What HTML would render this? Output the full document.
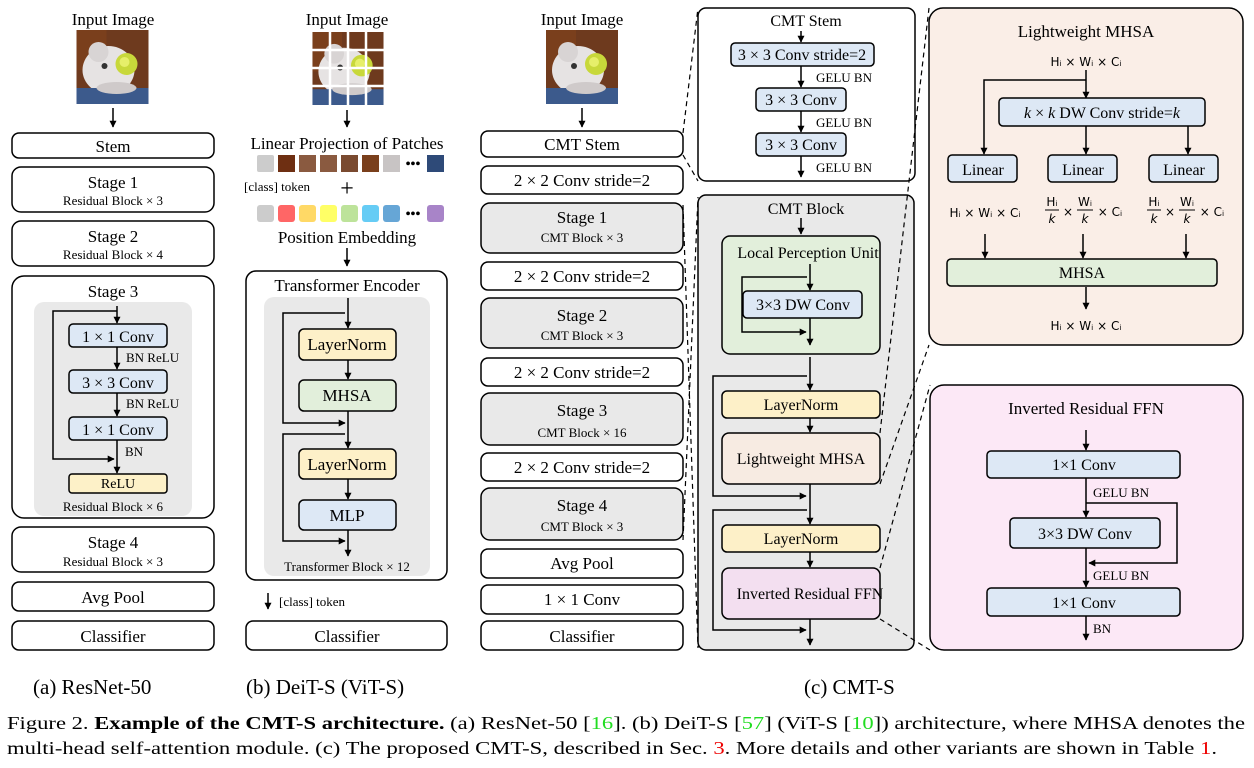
<!DOCTYPE html>
<html><head><meta charset="utf-8"><style>
html,body{margin:0;padding:0;background:#fff}
svg{display:block}
text{font-family:"Liberation Serif",serif;fill:#000}
</style></head><body>
<svg width="1254" height="768" viewBox="0 0 1254 768" xmlns="http://www.w3.org/2000/svg">
<defs>
<marker id="ar" viewBox="0 0 10 10" refX="9" refY="5" markerWidth="7" markerHeight="7" markerUnits="userSpaceOnUse" orient="auto"><path d="M0,0 L10,5 L0,10 z" fill="#000"/></marker>
<symbol id="cat" viewBox="0 0 72 74">
<rect width="72" height="74" fill="#6e3a1e"/>
<rect x="0" y="0" width="30" height="40" fill="#7a3f1c"/>
<ellipse cx="32" cy="40" rx="26" ry="24" fill="#e6e3e3"/>
<ellipse cx="22" cy="22" rx="10" ry="10" fill="#d8d4d4"/>
<circle cx="50" cy="34" r="11" fill="#c8d83a"/>
<circle cx="48" cy="32" r="5" fill="#e6ef6a"/>
<circle cx="28" cy="36" r="3" fill="#333"/>
<rect x="0" y="58" width="72" height="16" fill="#3c5a8c"/>
<ellipse cx="40" cy="58" rx="20" ry="6" fill="#cfcaca"/>
</symbol>
</defs>
<g fill="none" stroke="#000" stroke-width="1.5">
<!-- (a) -->
<line x1="113" y1="108" x2="113" y2="127" marker-end="url(#ar)"/>
<rect x="12" y="133" width="202" height="25" rx="7" fill="#fff"/>
<rect x="12" y="167" width="202" height="45" rx="9" fill="#fff"/>
<rect x="12" y="221" width="202" height="45" rx="9" fill="#fff"/>
<rect x="12" y="276" width="202" height="242" rx="12" fill="#fff"/>
<rect x="34" y="302" width="158" height="214" rx="10" fill="#e9e9e9" stroke="none"/>
<rect x="69" y="324" width="98" height="23" rx="4" fill="#dde8f5"/>
<rect x="69" y="370" width="98" height="23" rx="4" fill="#dde8f5"/>
<rect x="69" y="417" width="98" height="23" rx="4" fill="#dde8f5"/>
<rect x="69" y="474" width="98" height="19" rx="3" fill="#fdf1c8"/>
<line x1="117" y1="306" x2="117" y2="323" marker-end="url(#ar)"/>
<line x1="117" y1="347" x2="117" y2="369" marker-end="url(#ar)"/>
<line x1="117" y1="393" x2="117" y2="416" marker-end="url(#ar)"/>
<line x1="117" y1="440" x2="117" y2="473" marker-end="url(#ar)"/>
<polyline points="117,311 53,311 53,459 114,459" marker-end="url(#ar)"/>
<rect x="12" y="527" width="202" height="45" rx="9" fill="#fff"/>
<rect x="12" y="582" width="202" height="29" rx="7" fill="#fff"/>
<rect x="12" y="621" width="202" height="29" rx="7" fill="#fff"/>
<!-- (b) -->
<line x1="347" y1="110" x2="347" y2="127" marker-end="url(#ar)"/>
<line x1="347" y1="248" x2="347" y2="266" marker-end="url(#ar)"/>
<rect x="246" y="271" width="201" height="309" rx="10" fill="#fff"/>
<rect x="264" y="297" width="166" height="279" rx="10" fill="#e9e9e9" stroke="none"/>
<rect x="299" y="329" width="97" height="31" rx="5" fill="#fdf0c8"/>
<rect x="299" y="380" width="97" height="31" rx="5" fill="#e2efdb"/>
<rect x="299" y="449" width="97" height="30" rx="5" fill="#fdf0c8"/>
<rect x="299" y="500" width="97" height="30" rx="5" fill="#dde8f5"/>
<line x1="348" y1="298" x2="348" y2="328" marker-end="url(#ar)"/>
<line x1="348" y1="360" x2="348" y2="379" marker-end="url(#ar)"/>
<line x1="348" y1="411" x2="348" y2="448" marker-end="url(#ar)"/>
<line x1="348" y1="479" x2="348" y2="499" marker-end="url(#ar)"/>
<line x1="348" y1="530" x2="348" y2="556" marker-end="url(#ar)"/>
<polyline points="345,313 283,313 283,423 345,423" marker-end="url(#ar)"/>
<polyline points="345,434 283,434 283,541 345,541" marker-end="url(#ar)"/>
<line x1="268" y1="593" x2="268" y2="609" marker-end="url(#ar)"/>
<rect x="246" y="621" width="201" height="29" rx="7" fill="#fff"/>
<!-- (c) column -->
<line x1="582" y1="108" x2="582" y2="127" marker-end="url(#ar)"/>
<rect x="481" y="131" width="202" height="26" rx="7" fill="#fff"/>
<rect x="481" y="166" width="202" height="28" rx="7" fill="#fff"/>
<rect x="481" y="203" width="202" height="50" rx="9" fill="#e9e9e9"/>
<rect x="481" y="262" width="202" height="28" rx="7" fill="#fff"/>
<rect x="481" y="298" width="202" height="50" rx="9" fill="#e9e9e9"/>
<rect x="481" y="358" width="202" height="28" rx="7" fill="#fff"/>
<rect x="481" y="393" width="202" height="52" rx="9" fill="#e9e9e9"/>
<rect x="481" y="453" width="202" height="28" rx="7" fill="#fff"/>
<rect x="481" y="488" width="202" height="52" rx="9" fill="#e9e9e9"/>
<rect x="481" y="549" width="202" height="29" rx="7" fill="#fff"/>
<rect x="481" y="585" width="202" height="29" rx="7" fill="#fff"/>
<rect x="481" y="621" width="202" height="29" rx="7" fill="#fff"/>
<!-- CMT stem panel -->
<rect x="698" y="8" width="217" height="173" rx="8" fill="#fff"/>
<rect x="731" y="43" width="143" height="23" rx="4" fill="#dde8f5"/>
<rect x="756" y="88" width="90" height="23" rx="4" fill="#dde8f5"/>
<rect x="756" y="133" width="90" height="23" rx="4" fill="#dde8f5"/>
<line x1="801" y1="31" x2="801" y2="42" marker-end="url(#ar)"/>
<line x1="801" y1="66" x2="801" y2="87" marker-end="url(#ar)"/>
<line x1="801" y1="111" x2="801" y2="132" marker-end="url(#ar)"/>
<line x1="801" y1="156" x2="801" y2="177" marker-end="url(#ar)"/>
<!-- CMT block -->
<rect x="698" y="195" width="216" height="455" rx="8" fill="#e9e9e9"/>
<line x1="801" y1="218" x2="801" y2="234" marker-end="url(#ar)"/>
<rect x="722" y="236" width="158" height="118" rx="8" fill="#e2efdb"/>
<rect x="743" y="291" width="119" height="27" rx="4" fill="#dde8f5"/>
<line x1="810" y1="264" x2="810" y2="290" marker-end="url(#ar)"/>
<line x1="810" y1="318" x2="810" y2="345" marker-end="url(#ar)"/>
<polyline points="807,277 742,277 742,332 806,332" marker-end="url(#ar)"/>
<line x1="810" y1="357" x2="810" y2="390" marker-end="url(#ar)"/>
<polyline points="807,376 713,376 713,496 806,496" marker-end="url(#ar)"/>
<rect x="722" y="391" width="158" height="27" rx="5" fill="#fdf0c8"/>
<line x1="810" y1="418" x2="810" y2="432" marker-end="url(#ar)"/>
<rect x="722" y="433" width="158" height="51" rx="7" fill="#f7ebe2"/>
<line x1="810" y1="484" x2="810" y2="524" marker-end="url(#ar)"/>
<polyline points="807,510 713,510 713,630 806,630" marker-end="url(#ar)"/>
<rect x="722" y="525" width="158" height="27" rx="5" fill="#fdf0c8"/>
<line x1="810" y1="552" x2="810" y2="567" marker-end="url(#ar)"/>
<rect x="722" y="568" width="158" height="51" rx="7" fill="#f3dff0"/>
<line x1="810" y1="619" x2="810" y2="645" marker-end="url(#ar)"/>
<!-- Lightweight MHSA -->
<rect x="929" y="8" width="314" height="337" rx="14" fill="#faeee7"/>
<polyline points="1086,70 1086,98" marker-end="url(#ar)"/>
<polyline points="1086,80 984,80 984,154" marker-end="url(#ar)"/>
<rect x="999" y="98" width="206" height="28" rx="4" fill="#dde8f5"/>
<line x1="1086" y1="126" x2="1086" y2="154" marker-end="url(#ar)"/>
<line x1="1188" y1="126" x2="1188" y2="154" marker-end="url(#ar)"/>
<rect x="948" y="155" width="69" height="27" rx="4" fill="#dde8f5"/>
<rect x="1048" y="155" width="69" height="27" rx="4" fill="#dde8f5"/>
<rect x="1149" y="155" width="69" height="27" rx="4" fill="#dde8f5"/>
<line x1="985" y1="234" x2="985" y2="258" marker-end="url(#ar)"/>
<line x1="1083" y1="234" x2="1083" y2="258" marker-end="url(#ar)"/>
<line x1="1186" y1="234" x2="1186" y2="258" marker-end="url(#ar)"/>
<rect x="947" y="259" width="270" height="27" rx="4" fill="#e2efdb"/>
<line x1="1086" y1="287" x2="1086" y2="309" marker-end="url(#ar)"/>
<!-- IRFFN -->
<rect x="930" y="385" width="313" height="265" rx="14" fill="#fce8f6"/>
<line x1="1086" y1="430" x2="1086" y2="450" marker-end="url(#ar)"/>
<rect x="987" y="451" width="193" height="27" rx="4" fill="#dde8f5"/>
<line x1="1086" y1="478" x2="1086" y2="517" marker-end="url(#ar)"/>
<polyline points="1086,503 1177,503 1177,563 1089,563" marker-end="url(#ar)"/>
<rect x="1010" y="518" width="150" height="30" rx="4" fill="#dde8f5"/>
<line x1="1086" y1="548" x2="1086" y2="587" marker-end="url(#ar)"/>
<rect x="987" y="588" width="193" height="28" rx="4" fill="#dde8f5"/>
<line x1="1086" y1="616" x2="1086" y2="640" marker-end="url(#ar)"/>
</g>
<!-- dashed -->
<g stroke="#000" stroke-width="1.2" stroke-dasharray="5,4" fill="none">
<line x1="683" y1="133" x2="698" y2="8"/>
<line x1="683" y1="155" x2="698" y2="181"/>
<line x1="683" y1="205" x2="698" y2="648"/>
<line x1="683" y1="540" x2="698" y2="197"/>
<line x1="880" y1="433" x2="929" y2="8"/>
<line x1="880" y1="484" x2="929" y2="345"/>
<line x1="880" y1="568" x2="930" y2="385"/>
<line x1="880" y1="619" x2="930" y2="650"/>
</g>
<!-- images -->
<use href="#cat" x="76" y="30" width="73" height="74"/>
<use href="#cat" x="546" y="30" width="72" height="74"/>
<use href="#cat" x="312" y="32" width="72" height="73"/>
<g stroke="#fff" stroke-width="2.5">
<line x1="330" y1="32" x2="330" y2="105"/><line x1="348" y1="32" x2="348" y2="105"/><line x1="366" y1="32" x2="366" y2="105"/>
<line x1="312" y1="50" x2="384" y2="50"/><line x1="312" y1="68" x2="384" y2="68"/><line x1="312" y1="86" x2="384" y2="86"/>
</g>
<!-- token rows -->
<g>
<rect x="257" y="155" width="17" height="17" rx="2" fill="#ccc"/>
<rect x="278" y="155" width="17" height="17" fill="#6e2f12"/>
<rect x="299" y="155" width="17" height="17" fill="#8a5a40"/>
<rect x="320" y="155" width="17" height="17" fill="#8a5a40"/>
<rect x="341" y="155" width="17" height="17" fill="#7a4a30"/>
<rect x="362" y="155" width="17" height="17" fill="#7a3f1c"/>
<rect x="383" y="155" width="17" height="17" fill="#c8c4c4"/>
<rect x="427" y="155" width="17" height="17" fill="#2e4a78"/>
<rect x="257" y="205" width="17" height="17" rx="3" fill="#ccc"/>
<rect x="278" y="205" width="17" height="17" rx="3" fill="#ff6666"/>
<rect x="299" y="205" width="17" height="17" rx="3" fill="#ffd966"/>
<rect x="320" y="205" width="17" height="17" rx="3" fill="#ffff66"/>
<rect x="341" y="205" width="17" height="17" rx="3" fill="#bde39a"/>
<rect x="362" y="205" width="17" height="17" rx="3" fill="#66ccf5"/>
<rect x="383" y="205" width="17" height="17" rx="3" fill="#66a6d6"/>
<rect x="427" y="205" width="17" height="17" rx="3" fill="#a884c8"/>
</g>
<g font-size="17" text-anchor="middle">
<text x="113" y="25">Input Image</text>
<text x="347" y="25">Input Image</text>
<text x="582" y="25">Input Image</text>
<text x="113" y="152">Stem</text>
<text x="113" y="188">Stage 1</text>
<text x="113" y="242">Stage 2</text>
<text x="113" y="297">Stage 3</text>
<text x="113" y="548">Stage 4</text>
<text x="113" y="603">Avg Pool</text>
<text x="113" y="642">Classifier</text>
<text x="118" y="342" font-size="16">1 × 1 Conv</text>
<text x="118" y="388" font-size="16">3 × 3 Conv</text>
<text x="118" y="435" font-size="16">1 × 1 Conv</text>
<text x="118" y="488" font-size="14">ReLU</text>
<text x="347" y="149">Linear Projection of Patches</text>
<text x="413" y="168" font-size="14" font-weight="bold">•••</text>
<text x="413" y="218" font-size="14" font-weight="bold">•••</text>
<text x="347" y="196" font-size="24">+</text>
<text x="347" y="243">Position Embedding</text>
<text x="347" y="291">Transformer Encoder</text>
<text x="347" y="350">LayerNorm</text>
<text x="347" y="401">MHSA</text>
<text x="347" y="470">LayerNorm</text>
<text x="347" y="521">MLP</text>
<text x="347" y="642">Classifier</text>
<text x="582" y="150">CMT Stem</text>
<text x="582" y="186">2 × 2 Conv stride=2</text>
<text x="582" y="223">Stage 1</text>
<text x="582" y="282">2 × 2 Conv stride=2</text>
<text x="582" y="321">Stage 2</text>
<text x="582" y="378">2 × 2 Conv stride=2</text>
<text x="582" y="416">Stage 3</text>
<text x="582" y="473">2 × 2 Conv stride=2</text>
<text x="582" y="511">Stage 4</text>
<text x="582" y="569">Avg Pool</text>
<text x="582" y="605">1 × 1 Conv</text>
<text x="582" y="642">Classifier</text>
<text x="806" y="26" font-size="16">CMT Stem</text>
<text x="802" y="60" font-size="16">3 × 3 Conv stride=2</text>
<text x="801" y="105" font-size="16">3 × 3 Conv</text>
<text x="801" y="150" font-size="16">3 × 3 Conv</text>
<text x="806" y="214" font-size="16">CMT Block</text>
<text x="808" y="258" font-size="16">Local Perception Unit</text>
<text x="803" y="310" font-size="16">3×3 DW Conv</text>
<text x="801" y="410" font-size="16">LayerNorm</text>
<text x="801" y="464" font-size="16">Lightweight MHSA</text>
<text x="801" y="544" font-size="16">LayerNorm</text>
<text x="810" y="599" font-size="16">Inverted Residual FFN</text>
<text x="1086" y="37">Lightweight MHSA</text>
<text x="1102" y="118" font-size="16"><tspan font-style="italic">k</tspan> × <tspan font-style="italic">k</tspan> DW Conv stride=<tspan font-style="italic">k</tspan></text>
<text x="983" y="175" font-size="16">Linear</text>
<text x="1083" y="175" font-size="16">Linear</text>
<text x="1184" y="175" font-size="16">Linear</text>
<text x="1082" y="278" font-size="16">MHSA</text>
<text x="1086" y="414">Inverted Residual FFN</text>
<text x="1084" y="470" font-size="16">1×1 Conv</text>
<text x="1085" y="539" font-size="16">3×3 DW Conv</text>
<text x="1084" y="608" font-size="16">1×1 Conv</text>
</g>
<g font-size="13" text-anchor="middle">
<text x="113" y="205">Residual Block × 3</text>
<text x="113" y="259">Residual Block × 4</text>
<text x="113" y="511">Residual Block × 6</text>
<text x="113" y="566">Residual Block × 3</text>
<text x="347" y="571">Transformer Block × 12</text>
<text x="582" y="242">CMT Block × 3</text>
<text x="582" y="340">CMT Block × 3</text>
<text x="582" y="437">CMT Block × 16</text>
<text x="582" y="531">CMT Block × 3</text>
</g>
<g font-size="13">
<text x="244" y="191">[class] token</text>
<text x="279" y="606">[class] token</text>
<text x="126" y="362">BN ReLU</text>
<text x="126" y="408">BN ReLU</text>
<text x="125" y="456">BN</text>
<text x="816" y="82">GELU BN</text>
<text x="816" y="127">GELU BN</text>
<text x="816" y="172">GELU BN</text>
<text x="1093" y="497">GELU BN</text>
<text x="1093" y="580">GELU BN</text>
<text x="1093" y="633">BN</text>
</g>
<g font-size="12" font-family="'DejaVu Sans',sans-serif" text-anchor="middle">
<text x="1086" y="66" style="font-family:'DejaVu Sans',sans-serif">Hᵢ × Wᵢ × Cᵢ</text>
<text x="985" y="217" style="font-family:'DejaVu Sans',sans-serif">Hᵢ × Wᵢ × Cᵢ</text>
<text x="1086" y="330" style="font-family:'DejaVu Sans',sans-serif">Hᵢ × Wᵢ × Cᵢ</text>
</g>
<g font-size="12" text-anchor="middle" style="font-family:'DejaVu Sans',sans-serif">
<g transform="translate(1052,0)">
<text x="0" y="206" style="font-family:'DejaVu Sans',sans-serif">Hᵢ</text><line x1="-7" y1="210" x2="7" y2="210" stroke="#000"/><text x="0" y="223" font-style="italic" style="font-family:'DejaVu Sans',sans-serif">k</text>
<text x="16" y="216" style="font-family:'DejaVu Sans',sans-serif">×</text>
<text x="33" y="206" style="font-family:'DejaVu Sans',sans-serif">Wᵢ</text><line x1="25" y1="210" x2="41" y2="210" stroke="#000"/><text x="33" y="223" font-style="italic" style="font-family:'DejaVu Sans',sans-serif">k</text>
<text x="58" y="216" style="font-family:'DejaVu Sans',sans-serif">× Cᵢ</text>
</g>
<g transform="translate(1154,0)">
<text x="0" y="206" style="font-family:'DejaVu Sans',sans-serif">Hᵢ</text><line x1="-7" y1="210" x2="7" y2="210" stroke="#000"/><text x="0" y="223" font-style="italic" style="font-family:'DejaVu Sans',sans-serif">k</text>
<text x="16" y="216" style="font-family:'DejaVu Sans',sans-serif">×</text>
<text x="33" y="206" style="font-family:'DejaVu Sans',sans-serif">Wᵢ</text><line x1="25" y1="210" x2="41" y2="210" stroke="#000"/><text x="33" y="223" font-style="italic" style="font-family:'DejaVu Sans',sans-serif">k</text>
<text x="58" y="216" style="font-family:'DejaVu Sans',sans-serif">× Cᵢ</text>
</g>
</g>
<g font-size="21">
<text x="33" y="694">(a)  ResNet-50</text>
<text x="246" y="694">(b) DeiT-S (ViT-S)</text>
<text x="804" y="694">(c) CMT-S</text>
</g>
<g font-size="17.5">
<text x="7" y="729" textLength="1238" lengthAdjust="spacingAndGlyphs">Figure 2. <tspan font-weight="bold">Example of the CMT-S architecture.</tspan> (a) ResNet-50 [<tspan fill="#2ecc40" style="fill:#22dd22">16</tspan>]. (b) DeiT-S [<tspan style="fill:#22dd22">57</tspan>] (ViT-S [<tspan style="fill:#22dd22">10</tspan>]) architecture, where MHSA denotes the</text>
<text x="7" y="754" textLength="1210" lengthAdjust="spacingAndGlyphs">multi-head self-attention module. (c) The proposed CMT-S, described in Sec. <tspan style="fill:#ee0000">3</tspan>. More details and other variants are shown in Table <tspan style="fill:#ee0000">1</tspan>.</text>
</g>
</svg>
</body></html>
